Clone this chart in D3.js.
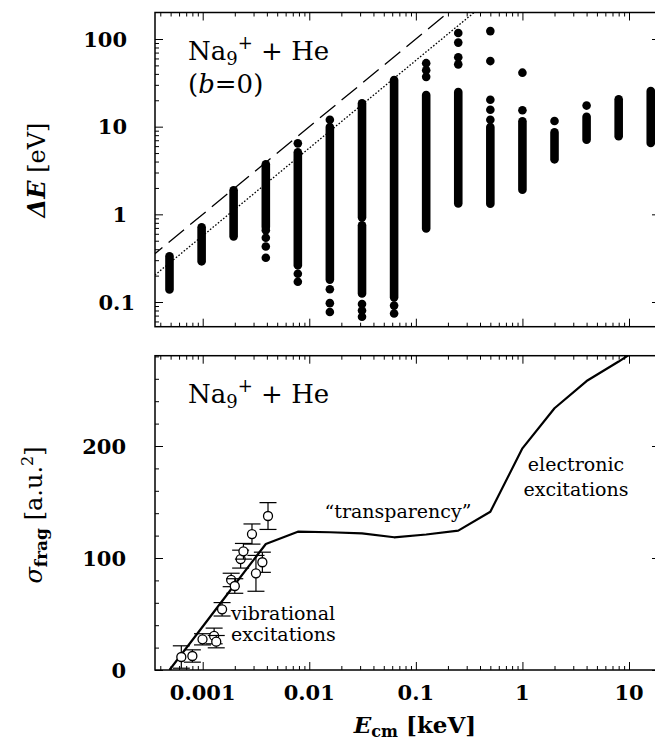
<!DOCTYPE html>
<html><head><meta charset="utf-8">
<script src="https://cdn.jsdelivr.net/npm/d3@7"></script>
<style>
body{margin:0;background:#fff}
svg{display:block}
text{font-family:"DejaVu Serif",serif;fill:#000}
</style>
</head><body>
<svg id="c" width="655" height="744"></svg>
<script>
// ---------- data ----------
// collision energies (keV) of the calculated columns
const energies = [0.000488,0.000977,0.00195,0.00391,0.00781,0.0156,0.03125,0.0625,0.125,0.25,0.5,1,2,4,8,16];
// dense stacks of ΔE values (eV) in each column, given as [low, high] runs
const stackRuns = [
  [[0.139,0.332]], [[0.291,0.711]], [[0.561,1.88]], [[0.715,3.72]],
  [[0.262,5.1]], [[0.18,9.9]], [[0.924,18.5],[0.125,0.75]], [[0.113,34]],
  [[0.69,23]], [[1.33,24.8]], [[1.32,9.9]], [[1.91,11.5]],
  [[4.24,8.6]], [[7.1,13.0]], [[7.8,20.5]], [[6.5,25.5]]
];
// isolated ΔE points (eV) in each column
const stackDots = [
  [], [], [], [0.66,0.54,0.43,0.32],
  [6.45,0.21,0.17], [12.0,0.14,0.097,0.077], [0.095,0.080,0.068], [0.091,0.074],
  [53,44,37], [117,91,62,51.4], [123,56,20.3,15.6,12.0], [41.3,15.4],
  [11.6], [17.4], [], []
];
// guide lines in top panel
const guideE = [0.0003, 0.5];          // keV
const dashedDE = [0.3, 500];           // eV
const dottedDE = [0.171, 285];         // eV

// fragmentation cross section (calculation), a.u.^2
const sigmaCurve = [0, 37.5, 75, 112.5, 123.5, 123, 122, 118.5, 121, 124.4, 141.3, 197.9, 233.7, 258, 275.4, 294];
// experiment
const expE     = [0.00063,0.00080,0.000996,0.00128,0.00134,0.00152,0.00185,0.00200,0.00227,0.00241,0.00290,0.00363,0.00316,0.00410];
const expSigma = [11.6, 12.5, 27.4, 30.4, 25.3, 54.2, 80.4, 75.0, 99.0, 106.0, 121.4, 96.2, 86.3, 137.5];
const expErr   = [10, 5.5, 5, 7, 5.5, 6, 6, 6.5, 8, 7, 9, 9, 16, 12];

// axes ticks / labels
const xMajor = [0.001,0.01,0.1,1,10];
const xLabels = ["0.001","0.01","0.1","1","10"];
const yTopMajor = [0.1,1,10,100];
const yTopLabels = ["0.1","1","10","100"];
const yBotMajor = [0,100,200];
const yBotLabels = ["0","100","200"];
const yBotMinor = [20,40,60,80,120,140,160,180,220,240,260,280];

// ---------- layout ----------
const L = 155, R = 660;
const TP = {t:12.5, b:326.7};
const BP = {t:355.7, b:670};

const x = d3.scaleLog().domain([0.001,10]).range([202.7,629]);
const yT = d3.scaleLog().domain([0.1,100]).range([302,39]);
const yB = d3.scaleLinear().domain([0,200]).range([670,446]);

const svg = d3.select("#c");

// clip paths
const defs = svg.append("defs");
defs.append("clipPath").attr("id","clipT").append("rect").attr("x",L).attr("y",TP.t).attr("width",R-L).attr("height",TP.b-TP.t);
defs.append("clipPath").attr("id","clipB").append("rect").attr("x",L).attr("y",BP.t).attr("width",R-L).attr("height",BP.b-BP.t);

// minor log tick values
function logTicks(scale, lo, hi){
  const out = [];
  for(let n=-5;n<=3;n++) for(let k=1;k<=9;k++){
    const v = k*Math.pow(10,n);
    const p = scale(v);
    if(p>lo+0.5 && p<hi-0.5) out.push({v, major:k===1});
  }
  return out;
}
const xTicks = logTicks(x, L, R);
const yTTicks = logTicks(yT, TP.t, TP.b);

function drawAxes(g, top, bottom, yScale, yTicks){
  const maj = xTicks.filter(d=>d.major).map(d=>d.v);
  const min = xTicks.filter(d=>!d.major).map(d=>d.v);
  [[d3.axisBottom, bottom, -8, maj],[d3.axisBottom, bottom, -4, min],
   [d3.axisTop, top, -8, maj],[d3.axisTop, top, -4, min]].forEach(([ax, yy, sz, vals])=>{
    const a = g.append("g").attr("transform",`translate(0,${yy})`)
      .call(ax(x).tickValues(vals).tickSize(sz).tickFormat(""));
    a.select(".domain").remove();
    a.selectAll("line").attr("stroke","#000").attr("stroke-width",1);
  });
  yTicks.forEach(grp=>{
    [[d3.axisLeft, L],[d3.axisRight, R]].forEach(([ax, xx])=>{
      const a = g.append("g").attr("transform",`translate(${xx},0)`)
        .call(ax(yScale).tickValues(grp.vals).tickSize(-grp.size).tickFormat(""));
      a.select(".domain").remove();
      a.selectAll("line").attr("stroke","#000").attr("stroke-width",1);
    });
  });
  g.append("rect").attr("x",L).attr("y",top).attr("width",R-L).attr("height",bottom-top)
    .attr("fill","none").attr("stroke","#000").attr("stroke-width",1.5);
}

// ---------- top panel ----------
const gT = svg.append("g");
const pT = gT.append("g").attr("clip-path","url(#clipT)");

const lineT = d3.line().x(d=>x(d[0])).y(d=>yT(d[1]));
pT.append("path").attr("d", lineT(guideE.map((e,i)=>[e,dashedDE[i]])))
  .attr("fill","none").attr("stroke","#000").attr("stroke-width",1.3).attr("stroke-dasharray","20,8");
pT.append("path").attr("d", lineT(guideE.map((e,i)=>[e,dottedDE[i]])))
  .attr("fill","none").attr("stroke","#000").attr("stroke-width",1.3).attr("stroke-dasharray","1.6,1.8");

const runs = [], dots = [];
energies.forEach((e,i)=>{
  stackRuns[i].forEach(r=>runs.push({e, lo:r[0], hi:r[1]}));
  stackDots[i].forEach(v=>dots.push({e, v}));
});
pT.selectAll("line.run").data(runs).join("line").attr("class","run")
  .attr("x1",d=>x(d.e)).attr("x2",d=>x(d.e))
  .attr("y1",d=>yT(d.lo)).attr("y2",d=>yT(d.hi))
  .attr("stroke","#000").attr("stroke-width",8.6).attr("stroke-linecap","round");
pT.selectAll("circle.dot").data(dots).join("circle").attr("class","dot")
  .attr("cx",d=>x(d.e)).attr("cy",d=>yT(d.v)).attr("r",4.3).attr("fill","#000");

drawAxes(gT, TP.t, TP.b, yT, [
  {vals: yTTicks.filter(d=>d.major).map(d=>d.v), size: 8},
  {vals: yTTicks.filter(d=>!d.major).map(d=>d.v), size: 4}
]);

gT.selectAll("text.yl").data(yTopMajor).join("text").attr("class","yl")
  .attr("x",(d,i)=> i===0 ? 135 : 127).attr("y",d=>yT(d)).attr("dy","0.36em")
  .attr("text-anchor","end").attr("font-size",21).attr("font-weight","bold")
  .text((d,i)=>yTopLabels[i]);

const t1 = gT.append("text").attr("x",188).attr("y",60).attr("font-size",26);
t1.append("tspan").text("Na");
t1.append("tspan").attr("font-size",18).attr("dy",5).text("9");
t1.append("tspan").attr("font-size",18).attr("dy",-16).text("+");
t1.append("tspan").attr("dy",11).text(" + He");
const t2 = gT.append("text").attr("x",188).attr("y",93).attr("font-size",26);
t2.append("tspan").text("(");
t2.append("tspan").attr("font-style","italic").text("b");
t2.append("tspan").text("=0)");

const yl1 = svg.append("text").attr("transform","translate(45,170) rotate(-90)")
  .attr("text-anchor","middle").attr("font-size",24);
yl1.append("tspan").attr("font-weight","bold").attr("font-style","italic").text("ΔE");
yl1.append("tspan").text(" [eV]");

// ---------- bottom panel ----------
const gB = svg.append("g");
const pB = gB.append("g").attr("clip-path","url(#clipB)");

pB.append("path")
  .attr("d", d3.line().x(d=>x(d[0])).y(d=>yB(d[1]))(energies.map((e,i)=>[e,sigmaCurve[i]])))
  .attr("fill","none").attr("stroke","#000").attr("stroke-width",2.2).attr("stroke-linejoin","round");

const exp = expE.map((e,i)=>({e, s:expSigma[i], err:expErr[i]}));
const eg = pB.selectAll("g.exp").data(exp).join("g").attr("class","exp");
eg.append("line").attr("x1",d=>x(d.e)).attr("x2",d=>x(d.e))
  .attr("y1",d=>yB(d.s-d.err)).attr("y2",d=>yB(d.s+d.err)).attr("stroke","#000").attr("stroke-width",1.2);
[-1,1].forEach(sg=>{
  eg.append("line").attr("x1",d=>x(d.e)-8.5).attr("x2",d=>x(d.e)+8.5)
    .attr("y1",d=>yB(d.s+sg*d.err)).attr("y2",d=>yB(d.s+sg*d.err)).attr("stroke","#000").attr("stroke-width",1.2);
});
eg.append("circle").attr("cx",d=>x(d.e)).attr("cy",d=>yB(d.s)).attr("r",4.5)
  .attr("fill","#fff").attr("stroke","#000").attr("stroke-width",1.3);

drawAxes(gB, BP.t, BP.b, yB, [
  {vals: yBotMajor, size: 8},
  {vals: yBotMinor, size: 4}
]);

gB.selectAll("text.yl").data(yBotMajor).join("text").attr("class","yl")
  .attr("x",126).attr("y",d=>yB(d)).attr("dy","0.36em")
  .attr("text-anchor","end").attr("font-size",21).attr("font-weight","bold")
  .text((d,i)=>yBotLabels[i]);

gB.selectAll("text.xl").data(xMajor).join("text").attr("class","xl")
  .attr("x",d=>x(d)).attr("y",700).attr("text-anchor","middle")
  .attr("font-size",21).attr("font-weight","bold")
  .text((d,i)=>xLabels[i]);

const t3 = gB.append("text").attr("x",188).attr("y",403).attr("font-size",26);
t3.append("tspan").text("Na");
t3.append("tspan").attr("font-size",18).attr("dy",5).text("9");
t3.append("tspan").attr("font-size",18).attr("dy",-16).text("+");
t3.append("tspan").attr("dy",11).text(" + He");

gB.append("text").attr("x",398).attr("y",518).attr("text-anchor","middle").attr("font-size",19).text("“transparency”");
gB.append("text").attr("x",576).attr("y",471).attr("text-anchor","middle").attr("font-size",19).text("electronic");
gB.append("text").attr("x",576).attr("y",496).attr("text-anchor","middle").attr("font-size",19).text("excitations");
gB.append("text").attr("x",231).attr("y",620).attr("font-size",19).text("vibrational");
gB.append("text").attr("x",231).attr("y",641).attr("font-size",19).text("excitations");

const yl2 = svg.append("text").attr("transform","translate(42,515) rotate(-90)")
  .attr("text-anchor","middle").attr("font-size",24);
yl2.append("tspan").attr("font-style","italic").text("σ");
yl2.append("tspan").attr("font-size",17).attr("font-weight","bold").attr("dy",5).text("frag");
yl2.append("tspan").attr("dy",-5).text(" [a.u.");
yl2.append("tspan").attr("font-size",16).attr("dy",-9).text("2");
yl2.append("tspan").attr("dy",9).text("]");

const xl = svg.append("text").attr("x",415).attr("y",733).attr("text-anchor","middle").attr("font-size",23).attr("font-weight","bold");
xl.append("tspan").attr("font-style","italic").text("E");
xl.append("tspan").attr("font-size",16).attr("dy",4).text("cm");
xl.append("tspan").attr("dy",-4).text(" [keV]");
</script>
</body></html>
